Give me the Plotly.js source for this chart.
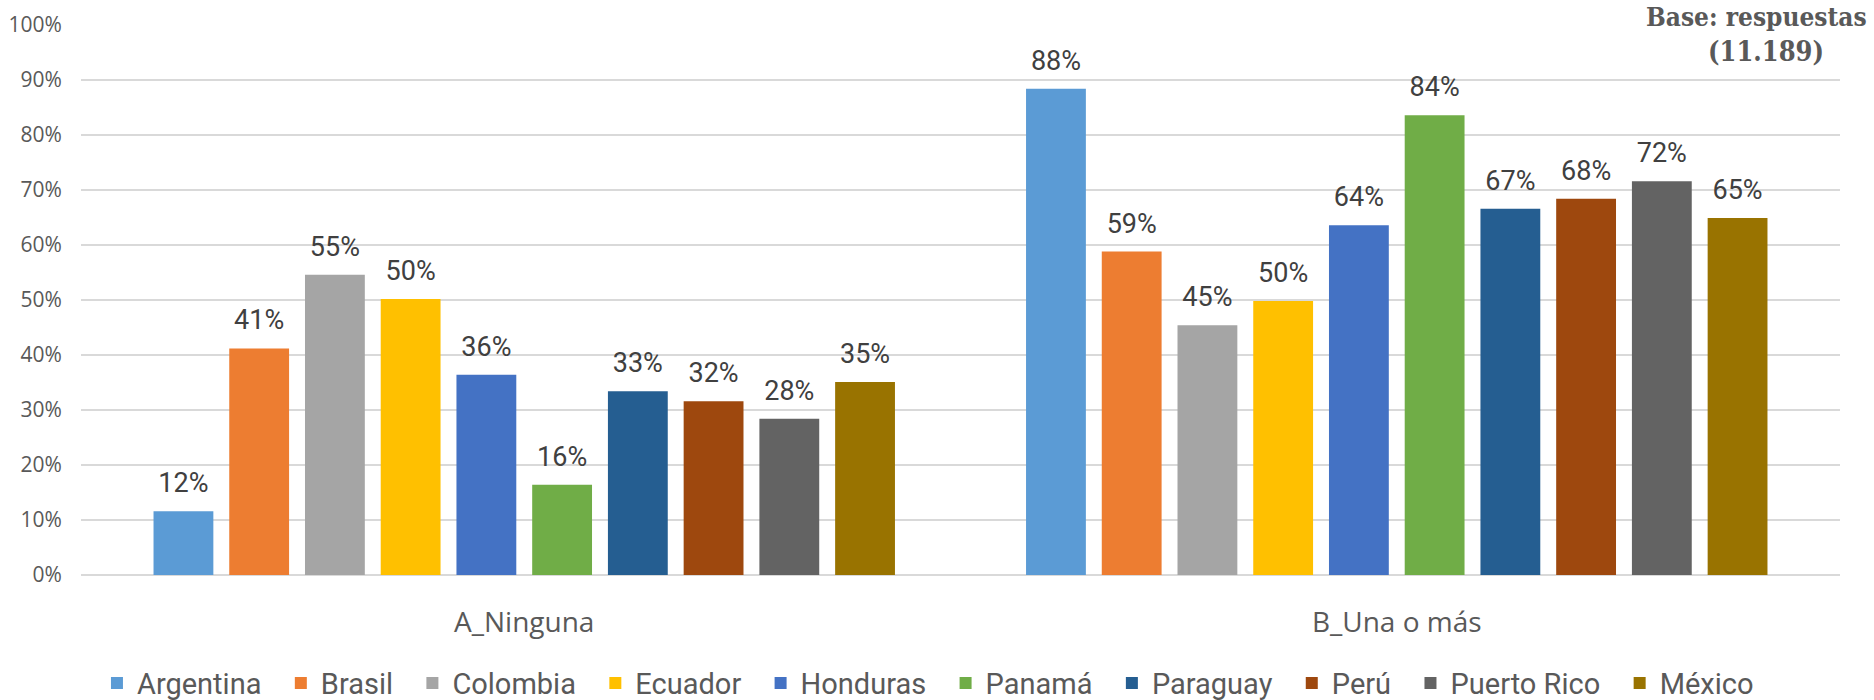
<!DOCTYPE html>
<html>
<head>
<meta charset="utf-8">
<script src="https://cdn.plot.ly/plotly-3.0.1.min.js"></script>
<style>html,body{margin:0;padding:0;background:#fff;}#chart{width:1874px;height:700px;}</style>
</head>
<body>
<div id="chart"></div>
<script>
var categories = ["A_Ninguna", "B_Una o más"];
var countries = ["Argentina", "Brasil", "Colombia", "Ecuador", "Honduras", "Panamá", "Paraguay", "Perú", "Puerto Rico", "México"];
var ninguna = [0.116, 0.412, 0.546, 0.502, 0.364, 0.164, 0.334, 0.316, 0.284, 0.351];
var unaOMas = [0.884, 0.588, 0.454, 0.498, 0.636, 0.836, 0.666, 0.684, 0.716, 0.649];
var colors = ["#5B9BD5", "#ED7D31", "#A5A5A5", "#FFC000", "#4472C4", "#70AD47", "#255E91", "#9E480E", "#636363", "#997300"];
var yTickVals = [0, 0.1, 0.2, 0.3, 0.4, 0.5, 0.6, 0.7, 0.8, 0.9, 1.0];
var yTickText = ["0%", "10%", "20%", "30%", "40%", "50%", "60%", "70%", "80%", "90%", "100%"];

var narrow = "Roboto, 'DejaVu Sans Condensed', sans-serif";
var serif = "'DejaVu Serif Condensed', 'DejaVu Serif', serif";

var bars = countries.map(function (c, i) {
  return {
    type: "bar",
    name: i < countries.length - 1 ? c + "\u00a0\u00a0" : c,
    x: categories,
    y: [ninguna[i], unaOMas[i]],
    marker: { color: colors[i] },
    hoverinfo: "skip"
  };
});

var labels = countries.map(function (c, i) {
  return {
    type: "scatter",
    mode: "markers+text",
    name: c + " labels",
    showlegend: false,
    x: categories,
    y: [ninguna[i], unaOMas[i]],
    marker: { size: 18, color: "rgba(0,0,0,0)", opacity: 0 },
    texttemplate: "%{y:.0%}",
    textposition: "top center",
    textfont: { family: narrow, size: 27, color: "#404040" },
    cliponaxis: false,
    hoverinfo: "skip"
  };
});

var layout = {
  width: 1874,
  height: 700,
  paper_bgcolor: "#ffffff",
  plot_bgcolor: "#ffffff",
  margin: { l: 81, r: 34, t: 25, b: 125, autoexpand: false },
  barmode: "group",
  bargap: 0.132,
  bargroupgap: 0.21,
  scattermode: "group",
  scattergap: 0.132,
  showlegend: true,
  legend: {
    orientation: "h",
    x: 0.4815, xanchor: "center",
    yref: "container",
    y: 0.024, yanchor: "middle",
    font: { family: narrow, size: 29, color: "#595959" },
    itemclick: false
  },
  xaxis: {
    type: "category",
    range: [-0.508, 1.508],
    showgrid: false,
    showline: false,
    zeroline: false,
    ticks: "outside",
    ticklen: 22,
    tickcolor: "rgba(0,0,0,0)",
    tickfont: { family: "'Open Sans', sans-serif", size: 28, color: "#595959" }
  },
  yaxis: {
    range: [0, 1],
    tickvals: yTickVals,
    ticktext: yTickText,
    showgrid: true,
    gridcolor: "#D9D9D9",
    gridwidth: 1.5,
    zeroline: true,
    zerolinecolor: "#D9D9D9",
    zerolinewidth: 1.5,
    showline: false,
    ticks: "outside",
    ticklen: 14,
    tickcolor: "rgba(0,0,0,0)",
    tickfont: { family: "'Open Sans', sans-serif", size: 21, color: "#595959" }
  },
  annotations: [
    {
      xref: "paper", yref: "paper", x: 1.0165, y: 1.014,
      xanchor: "right", yanchor: "middle",
      text: "<b>Base: respuestas</b>", showarrow: false,
      font: { family: serif, size: 26, color: "#595959" }
    },
    {
      xref: "paper", yref: "paper", x: 0.958, y: 0.951,
      xanchor: "center", yanchor: "middle",
      text: "<b>(11.189)</b>", showarrow: false,
      font: { family: serif, size: 27, color: "#595959" }
    }
  ]
};

Plotly.newPlot("chart", bars.concat(labels), layout, { displayModeBar: false, staticPlot: true });
</script>
</body>
</html>
